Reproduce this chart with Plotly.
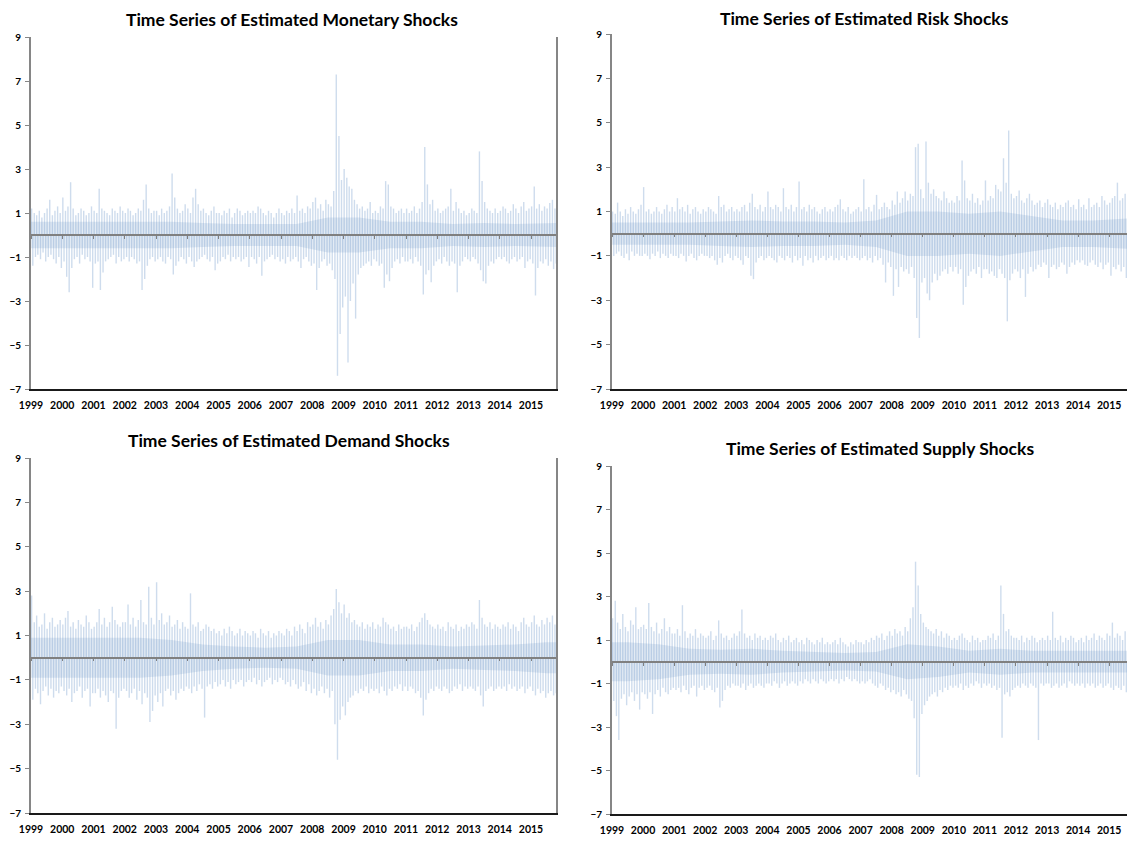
import plotly.graph_objects as go

# ---------------- data ----------------
years = list(range(1999, 2016))
year_labels = [str(y) for y in years]
y_ticks = [-7, -5, -3, -1, 1, 3, 5, 7, 9]
n_months = 202  # Jan 1999 .. Oct 2015

titles = ["Time Series of Estimated Monetary Shocks",
          "Time Series of Estimated Risk Shocks",
          "Time Series of Estimated Demand Shocks",
          "Time Series of Estimated Supply Shocks"]

# monthly largest positive / negative shock
monetary_hi = [
    1.2,1.0,0.9,1.1,0.8,1.0,1.2,1.6,0.9,1.1,1.3,1.0,
    1.7,1.1,1.3,2.4,1.2,0.9,1.0,1.2,1.1,0.9,1.0,1.3,
    1.1,1.0,2.1,1.2,1.1,1.0,0.9,1.2,1.1,1.0,1.3,1.1,
    1.0,1.2,1.1,0.9,1.0,1.2,1.1,1.6,2.3,1.2,1.0,1.1,
    1.1,0.9,1.2,1.0,1.1,1.3,2.8,1.7,1.2,1.0,1.1,1.4,
    1.2,1.0,1.7,2.1,1.4,1.1,1.2,1.0,0.9,1.1,1.3,1.0,
    1.0,0.9,1.1,1.0,1.2,0.8,1.0,1.2,1.1,0.9,1.0,1.1,
    1.0,1.1,1.0,1.3,1.2,1.0,0.9,1.1,1.0,0.8,1.0,1.2,
    1.0,0.9,1.1,1.0,1.2,1.0,1.8,1.1,1.2,1.0,1.3,1.2,
    1.5,1.7,1.2,1.4,1.1,1.6,1.4,1.3,2.0,7.3,4.5,2.5,
    3.0,2.6,2.2,2.1,1.6,1.4,1.2,1.3,1.1,1.2,1.5,1.0,
    1.1,1.0,1.3,1.2,2.45,2.3,1.3,1.2,1.0,1.1,1.2,1.0,
    1.2,1.0,1.1,1.3,1.0,1.2,1.5,4.0,2.3,1.4,1.6,1.1,
    1.2,1.0,1.1,1.2,1.3,2.1,1.1,1.5,1.2,1.0,1.1,0.9,
    1.0,1.2,1.1,1.0,3.8,2.45,1.5,1.2,1.1,1.0,1.2,1.0,
    1.1,1.3,1.2,1.0,1.1,1.4,1.2,1.0,1.3,1.5,1.1,1.2,
    1.3,2.2,1.2,1.4,1.1,1.3,1.2,1.45,1.6,1.2]
monetary_lo = [
    -1.4,-1.0,-0.9,-1.1,-0.8,-1.2,-1.0,-0.9,-1.1,-1.3,-1.0,-1.5,
    -1.2,-1.9,-2.6,-1.5,-1.1,-1.0,-1.3,-0.9,-1.1,-1.0,-1.2,-2.4,
    -1.3,-1.2,-2.5,-1.7,-1.2,-1.1,-1.0,-0.9,-1.3,-1.0,-1.2,-1.1,
    -1.0,-1.2,-1.0,-1.1,-1.3,-1.2,-2.5,-2.0,-1.4,-1.1,-1.0,-1.2,
    -1.1,-1.0,-1.2,-1.3,-1.0,-1.1,-1.8,-1.4,-1.2,-1.0,-1.1,-1.3,
    -1.0,-1.2,-1.45,-1.2,-1.1,-1.0,-0.9,-1.1,-1.2,-1.0,-1.6,-1.3,
    -1.2,-1.0,-1.1,-0.9,-1.2,-1.0,-1.1,-1.0,-1.2,-1.1,-1.0,-1.45,
    -1.0,-1.1,-1.3,-1.0,-1.85,-1.2,-1.1,-1.0,-0.9,-1.1,-1.0,-1.2,
    -1.1,-1.3,-1.0,-1.2,-1.1,-1.0,-1.2,-1.5,-1.1,-1.0,-1.2,-1.4,
    -1.3,-2.5,-1.5,-1.2,-1.1,-1.4,-1.3,-1.6,-2.0,-6.4,-4.5,-3.3,
    -2.8,-5.8,-3.0,-2.2,-3.8,-1.8,-1.5,-1.4,-1.3,-1.2,-1.4,-1.1,
    -1.2,-1.4,-1.3,-2.4,-1.8,-2.1,-1.5,-1.2,-1.1,-1.3,-1.0,-1.2,
    -1.2,-1.1,-1.3,-1.0,-1.2,-1.4,-2.7,-1.8,-1.6,-2.15,-1.4,-1.2,
    -1.1,-1.3,-1.0,-1.2,-1.4,-1.2,-1.3,-2.6,-1.4,-1.2,-1.0,-1.1,
    -1.2,-1.0,-1.1,-1.3,-1.6,-2.1,-2.2,-1.4,-1.2,-1.3,-1.1,-1.0,
    -1.1,-1.0,-1.2,-1.3,-1.1,-1.0,-1.2,-1.1,-1.0,-1.5,-1.2,-1.1,
    -1.3,-2.75,-1.5,-1.2,-1.3,-1.1,-1.4,-1.2,-1.55,-1.3]

risk_hi = [
    1.0,0.9,1.4,1.0,0.8,1.1,0.9,1.2,1.0,0.9,1.1,1.3,
    2.1,1.0,1.1,0.9,1.0,1.2,1.0,0.9,1.1,1.3,1.0,1.2,
    1.0,1.6,1.1,1.2,1.0,1.3,0.9,1.1,1.2,1.0,0.9,1.1,
    1.0,1.2,1.1,1.0,0.9,1.7,1.2,1.3,1.0,1.1,1.2,1.0,
    1.1,1.0,1.2,1.3,1.0,1.4,1.8,1.2,1.1,1.3,1.0,1.2,
    1.9,1.2,1.1,1.3,1.2,1.0,2.05,1.2,1.1,1.3,1.0,1.2,
    2.35,1.1,1.2,1.0,1.3,1.1,1.2,1.0,0.9,1.1,1.2,1.0,
    1.1,1.0,1.2,1.3,1.55,1.1,1.0,1.2,0.9,1.0,1.1,1.2,
    1.0,2.45,1.1,1.2,1.0,1.3,1.75,1.1,1.2,1.4,1.2,1.1,
    1.5,1.3,1.9,1.4,1.6,1.9,1.5,1.8,1.7,3.9,4.05,2.0,
    1.6,4.15,2.3,1.8,2.0,1.7,1.6,1.5,1.9,1.6,1.4,1.5,
    1.4,1.7,1.5,3.3,2.4,1.6,1.5,1.8,1.4,1.6,1.3,1.5,
    2.4,1.5,1.7,1.6,2.2,2.0,1.9,3.4,2.3,4.65,1.8,1.6,
    1.7,1.95,1.5,1.4,1.6,1.8,1.5,1.3,1.4,1.5,1.2,1.4,
    1.55,1.3,1.2,1.4,1.1,1.3,1.2,1.4,1.5,1.2,1.3,1.1,
    1.55,1.2,1.3,1.1,1.6,1.2,1.3,1.4,1.2,1.7,1.5,1.3,
    1.4,1.6,1.7,2.3,1.5,1.6,1.8,2.0,2.3,1.9]
risk_lo = [
    -1.0,-0.9,-0.8,-1.0,-1.1,-0.9,-1.2,-0.8,-1.0,-0.9,-1.0,-1.0,
    -0.9,-1.0,-1.15,-0.9,-1.0,-0.8,-1.1,-0.9,-1.0,-1.1,-0.9,-1.0,
    -1.0,-1.1,-0.9,-1.0,-1.25,-1.0,-0.9,-1.1,-1.2,-1.0,-0.9,-1.0,
    -1.0,-1.1,-1.0,-1.2,-1.4,-1.1,-1.3,-1.0,-0.9,-1.1,-1.2,-1.0,
    -1.1,-1.2,-1.4,-1.0,-1.1,-1.9,-2.05,-1.3,-1.1,-1.0,-1.2,-1.1,
    -1.0,-1.1,-1.2,-1.3,-1.0,-1.1,-1.2,-1.0,-1.1,-1.3,-1.0,-1.2,
    -1.1,-1.45,-1.0,-1.2,-1.1,-1.3,-1.0,-1.2,-1.1,-1.0,-1.2,-1.1,
    -1.0,-1.2,-1.1,-1.2,-1.0,-1.1,-1.2,-1.0,-1.1,-1.0,-1.1,-1.2,
    -1.1,-1.0,-1.2,-1.1,-1.3,-1.0,-1.2,-1.1,-1.4,-2.2,-1.3,-1.5,
    -2.8,-1.6,-2.4,-1.5,-1.7,-1.6,-1.8,-1.5,-2.0,-3.8,-4.7,-2.2,
    -2.0,-2.7,-3.0,-2.2,-1.8,-2.1,-1.9,-1.7,-1.6,-1.8,-1.5,-1.7,
    -1.5,-1.8,-1.6,-3.2,-2.4,-1.9,-1.7,-1.6,-1.8,-1.5,-2.0,-1.6,
    -1.6,-1.8,-1.7,-1.9,-2.0,-1.6,-1.8,-2.0,-3.95,-2.1,-1.8,-1.6,
    -1.7,-2.0,-1.6,-2.85,-1.8,-1.5,-1.7,-1.6,-1.4,-1.5,-1.3,-1.4,
    -2.0,-1.5,-1.4,-1.6,-1.5,-1.3,-1.4,-1.8,-1.5,-1.3,-1.4,-1.2,
    -1.3,-1.2,-1.4,-1.45,-1.3,-1.2,-1.4,-1.5,-1.3,-1.6,-1.4,-1.3,
    -1.9,-1.5,-1.6,-1.4,-1.7,-1.5,-2.0,-1.6,-1.8,-1.5]

demand_hi = [
    2.8,1.6,1.9,1.4,1.5,2.0,1.3,1.6,1.8,1.4,1.5,1.7,
    1.5,1.8,2.1,1.4,1.6,1.3,1.7,1.5,1.4,1.9,1.6,1.3,
    1.4,1.6,2.2,1.5,1.8,1.4,1.6,2.3,1.7,1.5,1.4,1.6,
    1.6,2.4,1.5,1.8,1.4,1.7,2.6,1.6,1.5,3.2,1.8,1.5,
    3.4,1.7,2.0,1.5,1.6,1.9,1.4,1.5,1.7,1.3,1.6,1.4,
    1.3,2.9,1.5,1.4,1.6,1.2,1.3,1.5,1.4,1.2,1.3,1.1,
    1.2,1.0,1.3,1.1,1.4,1.2,1.0,1.1,1.3,1.0,1.2,1.1,
    1.0,1.2,1.1,0.9,1.3,1.1,1.0,1.2,0.9,1.1,1.0,1.2,
    1.1,1.0,1.3,1.2,1.0,1.4,1.2,1.5,1.3,1.1,1.6,1.4,
    1.5,1.8,1.4,1.6,1.3,1.7,1.5,1.9,2.2,3.1,2.5,2.0,
    2.4,1.8,2.0,1.6,1.7,1.5,1.4,1.6,1.3,1.5,1.4,1.6,
    1.3,1.5,1.4,1.8,1.6,1.5,1.3,1.4,1.2,1.5,1.3,1.4,
    1.4,1.3,1.5,1.2,1.4,1.6,1.8,2.0,1.7,1.5,1.4,1.3,
    1.5,1.3,1.4,1.2,1.6,1.4,1.3,1.5,1.2,1.4,1.3,1.5,
    1.4,1.6,1.5,1.3,2.6,1.8,1.5,1.4,1.6,1.3,1.5,1.4,
    1.3,1.5,1.4,1.6,1.3,1.5,1.4,1.2,1.6,1.8,1.5,1.4,
    1.6,1.9,1.5,1.4,1.7,1.5,1.8,1.6,1.9,1.5]
demand_lo = [
    -1.9,-1.4,-1.6,-2.1,-1.5,-1.3,-1.7,-1.4,-1.8,-1.5,-1.6,-1.3,
    -1.5,-1.7,-1.4,-2.0,-1.6,-1.5,-1.3,-1.8,-1.5,-1.4,-2.2,-1.6,
    -1.6,-1.4,-1.8,-1.5,-1.7,-2.0,-1.5,-1.6,-3.2,-1.8,-1.5,-1.4,
    -1.5,-1.8,-1.6,-1.4,-1.9,-1.5,-2.1,-1.6,-1.8,-2.9,-2.4,-1.7,
    -2.0,-1.6,-2.2,-1.5,-1.4,-1.7,-1.5,-1.9,-1.6,-1.4,-1.5,-1.3,
    -1.4,-1.6,-1.3,-1.5,-1.2,-1.4,-2.7,-1.3,-1.2,-1.4,-1.1,-1.3,
    -1.2,-1.0,-1.3,-1.1,-1.4,-1.0,-1.2,-1.1,-1.0,-1.3,-1.1,-1.0,
    -1.1,-0.9,-1.2,-1.0,-1.3,-1.1,-1.0,-0.9,-1.2,-1.0,-1.1,-0.9,
    -1.0,-1.2,-1.1,-1.3,-1.0,-1.2,-1.4,-1.3,-1.1,-1.5,-1.2,-1.6,
    -1.4,-1.7,-1.5,-1.3,-1.6,-1.4,-1.8,-1.5,-3.0,-4.6,-2.8,-2.2,
    -2.6,-2.0,-1.8,-1.7,-1.5,-1.6,-1.4,-1.5,-1.3,-1.6,-1.4,-1.5,
    -1.4,-1.6,-1.3,-1.5,-1.7,-1.4,-1.5,-1.3,-1.4,-1.2,-1.5,-1.3,
    -1.5,-1.3,-1.4,-1.6,-1.5,-1.8,-2.6,-1.9,-1.6,-1.4,-1.5,-1.3,
    -1.4,-1.5,-1.3,-1.4,-1.6,-1.5,-1.3,-1.4,-1.2,-1.5,-1.3,-1.4,
    -1.3,-1.4,-1.5,-1.3,-1.7,-2.2,-1.5,-1.4,-1.3,-1.5,-1.4,-1.3,
    -1.4,-1.3,-1.5,-1.2,-1.4,-1.3,-1.5,-1.4,-1.3,-1.6,-1.4,-1.3,
    -1.5,-1.7,-1.4,-1.6,-1.5,-1.8,-1.6,-1.5,-1.7,-1.6]

supply_hi = [
    2.0,2.8,1.8,1.5,2.2,1.6,1.4,1.9,1.7,2.5,1.5,1.6,
    1.7,1.5,2.7,1.6,1.4,1.8,1.3,1.5,2.0,1.4,1.6,1.3,
    1.3,1.5,1.2,2.6,1.4,1.1,1.3,1.2,1.5,1.1,1.3,1.2,
    1.1,1.2,1.4,1.0,1.2,1.9,1.3,1.1,1.2,1.0,1.1,1.3,
    1.2,1.4,2.4,1.3,1.1,1.2,1.0,1.3,1.1,1.2,1.0,1.1,
    1.0,1.2,1.1,1.3,1.0,0.9,1.1,1.0,1.2,0.9,1.0,1.1,
    0.9,1.0,0.8,1.1,1.0,0.9,0.8,1.0,0.9,1.1,0.8,0.9,
    0.8,0.9,1.0,0.8,1.1,0.9,0.8,0.7,0.9,0.8,1.0,0.9,
    0.9,0.8,1.0,0.9,1.1,1.0,1.2,1.1,1.3,1.0,1.2,1.4,
    1.2,1.5,1.3,1.4,1.2,1.6,1.4,2.0,2.5,4.6,3.5,2.2,
    1.8,1.6,1.5,1.4,1.3,1.5,1.2,1.4,1.1,1.3,1.2,1.0,
    1.1,1.0,1.2,1.3,1.1,1.0,0.9,1.2,1.0,1.1,0.9,1.0,
    1.0,1.2,1.1,1.3,1.0,1.2,3.5,2.2,1.4,1.5,1.2,1.1,
    1.1,1.0,1.2,0.9,1.1,1.0,1.2,1.1,0.9,1.0,1.1,1.0,
    1.2,1.0,2.3,1.1,1.0,1.2,0.9,1.1,1.0,1.2,1.1,0.9,
    1.0,1.1,0.9,1.2,1.0,1.1,1.3,1.0,1.2,1.1,1.0,1.3,
    1.2,1.8,1.1,1.3,1.2,1.0,1.4,1.2,1.1,1.3]
supply_lo = [
    -1.8,-2.5,-3.6,-1.7,-1.5,-2.0,-1.6,-1.4,-1.8,-1.5,-2.2,-1.4,
    -1.5,-1.7,-1.4,-2.4,-1.5,-1.3,-1.6,-1.2,-1.4,-1.5,-1.3,-1.2,
    -1.3,-1.2,-1.4,-1.1,-1.3,-1.5,-1.2,-1.1,-1.6,-1.2,-1.1,-1.3,
    -1.2,-1.1,-1.3,-1.4,-1.2,-2.1,-1.8,-1.3,-1.1,-1.2,-1.0,-1.1,
    -1.1,-1.2,-1.0,-1.3,-1.1,-1.0,-1.2,-1.1,-1.0,-1.1,-1.2,-1.0,
    -1.0,-1.1,-0.9,-1.0,-1.2,-1.0,-0.9,-1.1,-1.0,-0.9,-1.0,-1.1,
    -0.9,-1.0,-0.8,-0.9,-1.0,-0.8,-0.9,-1.0,-0.8,-0.9,-1.0,-0.9,
    -0.8,-0.9,-0.8,-1.0,-0.8,-0.9,-0.7,-0.8,-0.9,-0.8,-0.9,-1.0,
    -0.9,-1.0,-0.9,-0.8,-1.0,-1.1,-1.2,-1.0,-1.1,-1.3,-1.2,-1.4,
    -1.3,-1.5,-1.4,-1.6,-1.3,-1.5,-1.7,-1.8,-2.6,-5.2,-5.3,-2.4,
    -2.0,-1.8,-1.6,-1.5,-1.4,-1.6,-1.3,-1.4,-1.2,-1.3,-1.1,-1.2,
    -1.1,-1.2,-1.0,-1.3,-1.1,-1.2,-1.0,-1.1,-0.9,-1.0,-1.2,-1.0,
    -1.1,-1.0,-1.2,-1.1,-1.3,-1.2,-3.5,-1.5,-1.4,-1.6,-1.3,-1.2,
    -1.1,-1.2,-1.0,-1.1,-1.2,-1.0,-1.1,-1.2,-3.6,-1.0,-1.1,-1.0,
    -1.0,-1.2,-1.1,-1.0,-1.2,-1.1,-1.0,-1.2,-0.9,-1.0,-1.1,-1.0,
    -1.1,-1.0,-1.2,-1.0,-1.1,-1.0,-1.2,-1.1,-1.0,-1.2,-1.1,-1.0,
    -1.2,-1.3,-1.1,-1.2,-1.3,-1.1,-1.4,-1.2,-1.3,-1.2]

# yearly amplitude of the dense core of daily shocks
monetary_core = [0.6,0.6,0.6,0.6,0.6,0.55,0.5,0.5,0.5,0.8,0.8,0.6,0.6,0.5,0.55,0.5,0.55]
risk_core     = [0.5,0.5,0.5,0.55,0.6,0.55,0.55,0.5,0.6,1.0,1.0,0.9,1.0,0.8,0.6,0.6,0.7]
demand_core   = [0.9,0.9,0.9,0.9,0.8,0.6,0.5,0.45,0.5,0.8,0.8,0.6,0.6,0.5,0.55,0.6,0.7]
supply_core   = [0.9,0.8,0.6,0.55,0.6,0.5,0.45,0.4,0.45,0.8,0.7,0.5,0.6,0.5,0.5,0.5,0.5]

series = [(monetary_hi, monetary_lo, monetary_core),
          (risk_hi, risk_lo, risk_core),
          (demand_hi, demand_lo, demand_core),
          (supply_hi, supply_lo, supply_core)]

# ---------------- layout geometry ----------------
OFF = 8                       # page body margin of the browser
W, H = 1135 - OFF, 842 - OFF  # figure size so it fills the window
# (left, right, top, bottom) in window px
boxes = [(31, 556, 37, 389), (612, 1134, 34, 389),
         (31, 556, 458, 813), (612, 1134, 466, 814)]
title_pos = [(292, 19), (864, 18), (289, 440), (880, 448)]

x_range = ["1999-01-01", "2015-10-20"]
ymin, ymax = -7, 9

months = [(y, m) for y in years for m in range(1, 13)][:n_months]
month_hi_dates = ["%d-%02d-08" % (y, m) for y, m in months]
month_lo_dates = ["%d-%02d-22" % (y, m) for y, m in months]
year_ticks = ["%d-01-01" % y for y in years]

fig = go.Figure()
spike_color = "rgba(79,129,189,0.28)"
core_color = "rgba(79,129,189,0.16)"

for i, (hi, lo, core) in enumerate(series):
    k = i + 1
    xa = "x" if k == 1 else "x%d" % k
    ya = "y" if k == 1 else "y%d" % k
    # dense core
    core_x = [x_range[0]] + ["%d-07-01" % y for y in years] + [x_range[1]]
    core_up = [core[0]] + core + [core[-1]]
    core_dn = [-c for c in core_up]
    for cy in (core_up, core_dn):
        fig.add_trace(go.Scatter(x=core_x, y=cy, mode="lines", line=dict(width=0),
                                 fill="tozeroy", fillcolor=core_color, xaxis=xa, yaxis=ya,
                                 hoverinfo="skip", showlegend=False))
    xs, ys = [], []
    for d, v in zip(month_hi_dates, hi):
        xs += [d, d, None]
        ys += [0, v, None]
    for d, v in zip(month_lo_dates, lo):
        xs += [d, d, None]
        ys += [0, v, None]
    fig.add_trace(go.Scatter(x=xs, y=ys, mode="lines", line=dict(color=spike_color, width=1.4),
                             xaxis=xa, yaxis=ya, hoverinfo="skip", showlegend=False))
    # invisible trace that carries the zero-line axis
    fig.add_trace(go.Scatter(x=[x_range[0]], y=[0], mode="markers", marker=dict(opacity=0),
                             xaxis="x%d" % (k + 4), yaxis=ya, hoverinfo="skip", showlegend=False))

    l, r, t, b = boxes[i]
    dom_x = [(l - OFF) / W, min(1.0, (r - OFF) / W)]
    dom_y = [1 - (b - OFF) / H, 1 - (t - OFF) / H]
    zero_paper = dom_y[0] + (0 - ymin) / (ymax - ymin) * (dom_y[1] - dom_y[0])
    x_font = dict(family="Lato", size=10.5, color="#000000", weight="bold")
    y_font = dict(family="Lato", size=10, color="#000000", weight="bold")
    fig.layout["xaxis" if k == 1 else "xaxis%d" % k] = dict(
        domain=dom_x, anchor=ya, type="date", range=x_range, automargin=False,
        tickvals=year_ticks, ticktext=year_labels, ticks="", tickfont=x_font,
        showgrid=False, zeroline=False, showline=True, linecolor="#1a1a1a", linewidth=1.5,
        mirror=False, ticklabelstandoff=6)
    fig.layout["yaxis" if k == 1 else "yaxis%d" % k] = dict(
        domain=dom_y, anchor=xa, range=[ymin, ymax], tickvals=y_ticks, automargin=False,
        ticks="outside", ticklen=4, tickcolor="#868686", tickfont=y_font,
        showgrid=False, zeroline=False, showline=True, linecolor="#868686", linewidth=2,
        mirror=True, ticklabelstandoff=2)
    fig.layout["xaxis%d" % (k + 4)] = dict(
        overlaying=xa, anchor="free", position=zero_paper, type="date", range=x_range,
        tickvals=year_ticks, showticklabels=False, ticks="outside", ticklen=3,
        tickcolor="#808080", showline=True, linecolor="#808080", linewidth=1.5,
        showgrid=False, zeroline=False, automargin=False)
    tx, ty = title_pos[i]
    fig.add_annotation(text="<b>%s</b>" % titles[i], x=(tx - OFF) / W, y=1 - (ty - OFF) / H,
                       xref="paper", yref="paper", showarrow=False,
                       xanchor="center", yanchor="middle",
                       font=dict(family="Lato", size=17.5, color="#000000"))

fig.update_layout(width=W, height=H, margin=dict(l=0, r=0, t=0, b=0, autoexpand=False),
                  paper_bgcolor="white", plot_bgcolor="white", showlegend=False)
fig.write_html("out.html")
